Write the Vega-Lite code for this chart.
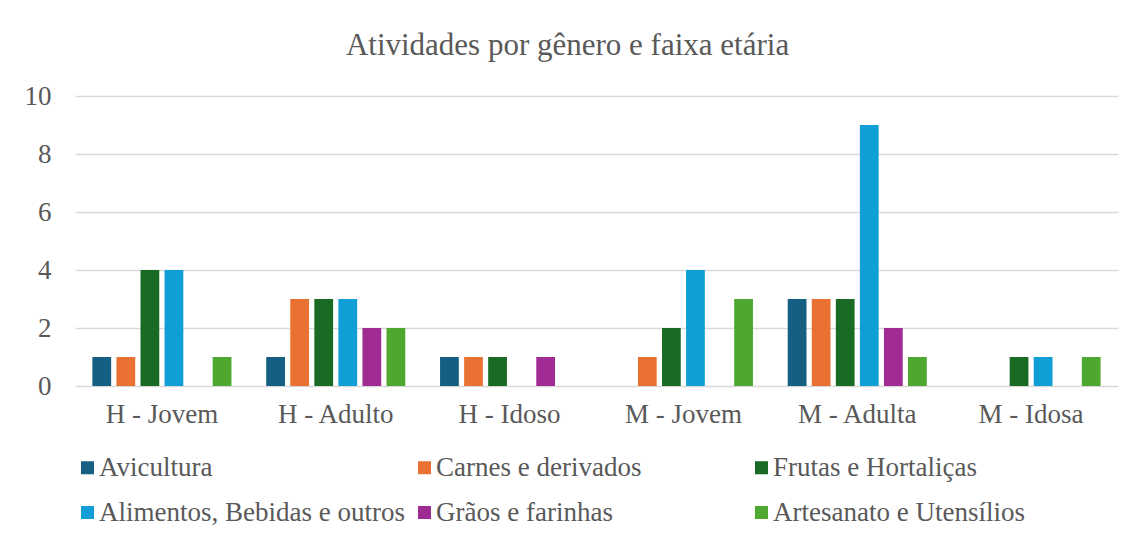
{
  "$schema": "https://vega.github.io/schema/vega-lite/v6.json",
  "width": 1043,
  "height": 290,
  "autosize": {"type": "none"},
  "padding": {"left": 75, "top": 96, "right": 24, "bottom": 150},
  "background": "white",
  "title": {
    "text": "Atividades por gênero e faixa etária",
    "font": "'Liberation Serif', 'Times New Roman', serif",
    "fontSize": 31,
    "fontWeight": "normal",
    "color": "#595959",
    "anchor": "middle",
    "dx": -29,
    "offset": 20
  },
  "data": {
    "values": [
      {"grupo": "H - Jovem", "atividade": "Avicultura", "valor": 1},
      {"grupo": "H - Jovem", "atividade": "Carnes e derivados", "valor": 1},
      {"grupo": "H - Jovem", "atividade": "Frutas e Hortaliças", "valor": 4},
      {"grupo": "H - Jovem", "atividade": "Alimentos, Bebidas e outros", "valor": 4},
      {"grupo": "H - Jovem", "atividade": "Grãos e farinhas", "valor": 0},
      {"grupo": "H - Jovem", "atividade": "Artesanato e Utensílios", "valor": 1},
      {"grupo": "H - Adulto", "atividade": "Avicultura", "valor": 1},
      {"grupo": "H - Adulto", "atividade": "Carnes e derivados", "valor": 3},
      {"grupo": "H - Adulto", "atividade": "Frutas e Hortaliças", "valor": 3},
      {"grupo": "H - Adulto", "atividade": "Alimentos, Bebidas e outros", "valor": 3},
      {"grupo": "H - Adulto", "atividade": "Grãos e farinhas", "valor": 2},
      {"grupo": "H - Adulto", "atividade": "Artesanato e Utensílios", "valor": 2},
      {"grupo": "H - Idoso", "atividade": "Avicultura", "valor": 1},
      {"grupo": "H - Idoso", "atividade": "Carnes e derivados", "valor": 1},
      {"grupo": "H - Idoso", "atividade": "Frutas e Hortaliças", "valor": 1},
      {"grupo": "H - Idoso", "atividade": "Alimentos, Bebidas e outros", "valor": 0},
      {"grupo": "H - Idoso", "atividade": "Grãos e farinhas", "valor": 1},
      {"grupo": "H - Idoso", "atividade": "Artesanato e Utensílios", "valor": 0},
      {"grupo": "M - Jovem", "atividade": "Avicultura", "valor": 0},
      {"grupo": "M - Jovem", "atividade": "Carnes e derivados", "valor": 1},
      {"grupo": "M - Jovem", "atividade": "Frutas e Hortaliças", "valor": 2},
      {"grupo": "M - Jovem", "atividade": "Alimentos, Bebidas e outros", "valor": 4},
      {"grupo": "M - Jovem", "atividade": "Grãos e farinhas", "valor": 0},
      {"grupo": "M - Jovem", "atividade": "Artesanato e Utensílios", "valor": 3},
      {"grupo": "M - Adulta", "atividade": "Avicultura", "valor": 3},
      {"grupo": "M - Adulta", "atividade": "Carnes e derivados", "valor": 3},
      {"grupo": "M - Adulta", "atividade": "Frutas e Hortaliças", "valor": 3},
      {"grupo": "M - Adulta", "atividade": "Alimentos, Bebidas e outros", "valor": 9},
      {"grupo": "M - Adulta", "atividade": "Grãos e farinhas", "valor": 2},
      {"grupo": "M - Adulta", "atividade": "Artesanato e Utensílios", "valor": 1},
      {"grupo": "M - Idosa", "atividade": "Avicultura", "valor": 0},
      {"grupo": "M - Idosa", "atividade": "Carnes e derivados", "valor": 0},
      {"grupo": "M - Idosa", "atividade": "Frutas e Hortaliças", "valor": 1},
      {"grupo": "M - Idosa", "atividade": "Alimentos, Bebidas e outros", "valor": 1},
      {"grupo": "M - Idosa", "atividade": "Grãos e farinhas", "valor": 0},
      {"grupo": "M - Idosa", "atividade": "Artesanato e Utensílios", "valor": 1}
    ]
  },
  "mark": {"type": "bar"},
  "encoding": {
    "x": {
      "field": "grupo",
      "type": "nominal",
      "sort": ["H - Jovem", "H - Adulto", "H - Idoso", "M - Jovem", "M - Adulta", "M - Idosa"],
      "scale": {"paddingInner": 0.2, "paddingOuter": 0.1},
      "axis": {
        "title": null,
        "labelAngle": 0,
        "labelFont": "'Liberation Serif', 'Times New Roman', serif",
        "labelFontSize": 27,
        "labelColor": "#595959",
        "labelPadding": 15,
        "ticks": false,
        "domain": false,
        "grid": false
      }
    },
    "xOffset": {
      "field": "atividade",
      "type": "nominal",
      "sort": ["Avicultura", "Carnes e derivados", "Frutas e Hortaliças", "Alimentos, Bebidas e outros", "Grãos e farinhas", "Artesanato e Utensílios"],
      "scale": {"paddingInner": 0.22, "paddingOuter": 0}
    },
    "y": {
      "field": "valor",
      "type": "quantitative",
      "scale": {"domain": [0, 10]},
      "axis": {
        "title": null,
        "values": [0, 2, 4, 6, 8, 10],
        "labelFont": "'Liberation Serif', 'Times New Roman', serif",
        "labelFontSize": 27,
        "labelColor": "#595959",
        "labelPadding": 24,
        "ticks": false,
        "domain": false,
        "grid": true,
        "gridColor": "#d9d9d9",
        "gridWidth": 1.5
      }
    },
    "color": {
      "field": "atividade",
      "type": "nominal",
      "sort": ["Avicultura", "Carnes e derivados", "Frutas e Hortaliças", "Alimentos, Bebidas e outros", "Grãos e farinhas", "Artesanato e Utensílios"],
      "scale": {
        "domain": ["Avicultura", "Carnes e derivados", "Frutas e Hortaliças", "Alimentos, Bebidas e outros", "Grãos e farinhas", "Artesanato e Utensílios"],
        "range": ["#156082", "#E97132", "#196B24", "#0F9ED5", "#A02B93", "#4EA72E"]
      },
      "legend": {
        "title": null,
        "orient": "none",
        "legendX": -1,
        "legendY": 358,
        "direction": "horizontal",
        "columns": 3,
        "gridAlign": "all",
        "columnPadding": 6,
        "rowPadding": 17,
        "padding": 0,
        "symbolType": "square",
        "symbolSize": 169,
        "symbolStrokeWidth": 0,
        "labelFont": "'Liberation Serif', 'Times New Roman', serif",
        "labelFontSize": 27,
        "labelColor": "#595959",
        "labelOffset": -2,
        "labelLimit": 400
      }
    }
  },
  "config": {"view": {"stroke": null}}
}
